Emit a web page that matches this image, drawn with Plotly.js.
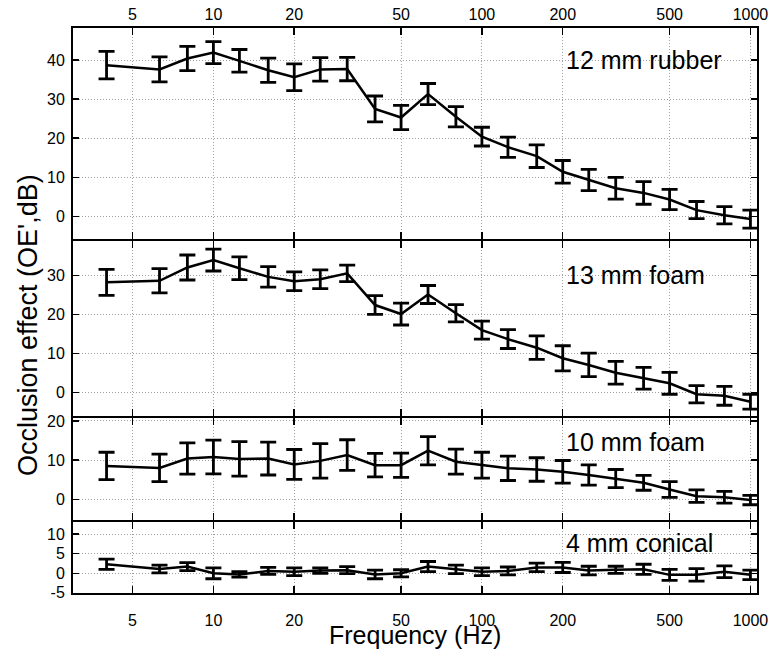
<!DOCTYPE html>
<html>
<head>
<meta charset="utf-8">
<script src="https://cdn.plot.ly/plotly-3.0.1.min.js"></script>
<style>html,body{margin:0;padding:0;background:#fff;}#chart{width:770px;height:650px;}</style>
</head>
<body>
<div id="chart"></div>
<script>
// Data
const freqs = [4, 6.3, 8, 10, 12.5, 16, 20, 25, 31.5, 40, 50, 63, 80, 100, 125, 160, 200, 250, 315, 400, 500, 630, 800, 1000];

const rubber12    = [38.7, 37.6, 40.4, 41.9, 39.8, 37.4, 35.6, 37.6, 37.7, 27.5, 25.3, 31.3, 25.5, 20.4, 17.7, 15.4, 11.4, 9.3, 7.2, 6.0, 4.3, 1.6, 0.3, -0.7];
const rubber12Err = [3.5, 3.2, 3.1, 2.8, 2.9, 3.1, 3.4, 3.0, 3.0, 3.3, 3.1, 2.7, 2.6, 2.4, 2.6, 2.9, 2.9, 2.7, 2.8, 2.9, 2.6, 2.2, 2.2, 2.3];

const foam13    = [28.2, 28.6, 32.0, 33.9, 31.8, 29.6, 28.5, 29.0, 30.5, 22.4, 20.1, 25.1, 20.3, 16.0, 13.7, 11.5, 8.8, 7.1, 5.1, 3.7, 2.4, -0.4, -0.8, -2.3];
const foam13Err = [3.3, 3.1, 3.2, 2.8, 2.9, 2.6, 2.4, 2.4, 2.1, 2.4, 2.8, 2.3, 2.2, 2.3, 2.4, 3.0, 3.2, 3.0, 2.9, 2.8, 2.8, 2.2, 2.4, 1.9];

const foam10    = [8.5, 8.0, 10.4, 10.8, 10.3, 10.4, 8.9, 9.8, 11.3, 8.7, 8.7, 12.4, 9.6, 8.7, 7.9, 7.6, 7.0, 6.2, 5.3, 4.2, 2.5, 0.8, 0.5, -0.2];
const foam10Err = [3.5, 3.5, 4.0, 4.3, 4.4, 4.2, 3.8, 4.4, 3.9, 3.0, 3.1, 3.6, 3.2, 3.3, 3.1, 3.0, 2.9, 2.6, 2.3, 1.9, 2.0, 1.6, 1.5, 1.2];

const conical4    = [2.3, 1.1, 1.7, 0.0, -0.3, 0.6, 0.4, 0.7, 0.8, -0.3, 0.0, 1.7, 1.0, 0.4, 0.6, 1.5, 1.5, 0.7, 0.9, 1.0, -0.4, -0.4, 0.4, -0.4];
const conical4Err = [1.3, 1.0, 1.0, 1.4, 0.7, 0.9, 1.0, 0.7, 0.9, 1.1, 0.9, 1.3, 1.1, 1.0, 1.0, 1.1, 1.3, 1.1, 0.9, 1.3, 1.4, 1.6, 1.5, 1.2];

const xTickVals = [5, 10, 20, 50, 100, 200, 500, 1000];
const xTickText = ['5', '10', '20', '50', '100', '200', '500', '1000'];

const panelLabels = ['12 mm rubber', '13 mm foam', '10 mm foam', '4 mm conical'];
const panelLabelY = [40, 30, 14.6, 7.7];
const yTicks = [[0, 10, 20, 30, 40], [0, 10, 20, 30], [0, 10, 20], [-5, 0, 5, 10]];
const yRanges = [[-5.8, 48.2], [-5.95, 38.77], [-5.36, 20.74], [-5.03, 13.0]];
const yDomains = [[0.6265, 1], [0.3133, 0.6230], [0.1287, 0.3097], [0, 0.1251]];

const seriesY = [rubber12, foam13, foam10, conical4];
const seriesErr = [rubber12Err, foam13Err, foam10Err, conical4Err];

const FONT = 'Liberation Sans, Arial, Helvetica, sans-serif';

const traces = seriesY.map((ys, i) => ({
  type: 'scatter',
  mode: 'lines',
  x: freqs,
  y: ys,
  xaxis: i === 0 ? 'x' : 'x' + (i + 1),
  yaxis: i === 0 ? 'y' : 'y' + (i + 1),
  line: {color: '#000', width: 2.5},
  error_y: {type: 'data', array: seriesErr[i], visible: true, color: '#000', thickness: 2.8, width: 8},
  showlegend: false,
  hoverinfo: 'skip'
}));

const layout = {
  width: 770,
  height: 650,
  margin: {l: 73, r: 13, t: 28, b: 57},
  paper_bgcolor: '#fff',
  plot_bgcolor: '#fff',
  font: {family: FONT, color: '#000', size: 16},
  showlegend: false,
  annotations: []
};

const xRange = [Math.log10(3.0), Math.log10(1058)];

for (let i = 0; i < 4; i++) {
  const xa = i === 0 ? 'xaxis' : 'xaxis' + (i + 1);
  const ya = i === 0 ? 'yaxis' : 'yaxis' + (i + 1);
  const yid = i === 0 ? 'y' : 'y' + (i + 1);
  const xid = i === 0 ? 'x' : 'x' + (i + 1);
  layout[xa] = {
    type: 'log',
    range: xRange,
    anchor: yid,
    side: i === 0 ? 'top' : 'bottom',
    tickmode: 'array',
    tickvals: xTickVals,
    ticktext: xTickText,
    showticklabels: (i === 0 || i === 3),
    ticks: 'inside',
    ticklen: 7,
    tickwidth: 1.5,
    tickcolor: '#000',
    showline: true,
    linecolor: '#000',
    linewidth: 2,
    mirror: 'ticks',
    showgrid: true,
    gridcolor: '#a0a0a0',
    griddash: '1px,2px',
    gridwidth: 1,
    zeroline: false,
    tickfont: {family: FONT, size: 16, color: '#000'},
    ticklabelstandoff: i === 3 ? 12 : 0
  };
  if (i > 0) layout[xa].matches = 'x';
  layout[ya] = {
    domain: yDomains[i],
    range: yRanges[i],
    anchor: xid,
    tickmode: 'array',
    tickvals: yTicks[i],
    ticktext: yTicks[i].map(String),
    ticks: 'inside',
    ticklen: 6,
    tickwidth: 1.5,
    tickcolor: '#000',
    showline: true,
    linecolor: '#000',
    linewidth: 2,
    mirror: 'ticks',
    showgrid: true,
    gridcolor: '#a0a0a0',
    griddash: '1px,2px',
    gridwidth: 1,
    zeroline: false,
    tickfont: {family: FONT, size: 16, color: '#000'},
    ticklabelstandoff: 3
  };
  layout.annotations.push({
    text: panelLabels[i],
    xref: 'paper',
    yref: yid,
    x: 0.718,
    y: panelLabelY[i],
    xanchor: 'left',
    yanchor: 'middle',
    showarrow: false,
    font: {family: FONT, size: 25, color: '#000'}
  });
}

layout.annotations.push({
  text: "Occlusion effect (OE',dB)",
  xref: 'paper', yref: 'paper',
  x: -0.066, y: 0.474,
  xanchor: 'center', yanchor: 'middle',
  textangle: -90,
  showarrow: false,
  font: {family: FONT, size: 27, color: '#000'}
});
layout.annotations.push({
  text: 'Frequency (Hz)',
  xref: 'paper', yref: 'paper',
  x: 0.5, y: -0.0745,
  xanchor: 'center', yanchor: 'middle',
  showarrow: false,
  font: {family: FONT, size: 25, color: '#000'}
});

Plotly.newPlot('chart', traces, layout, {staticPlot: true, displayModeBar: false});
</script>
</body>
</html>
